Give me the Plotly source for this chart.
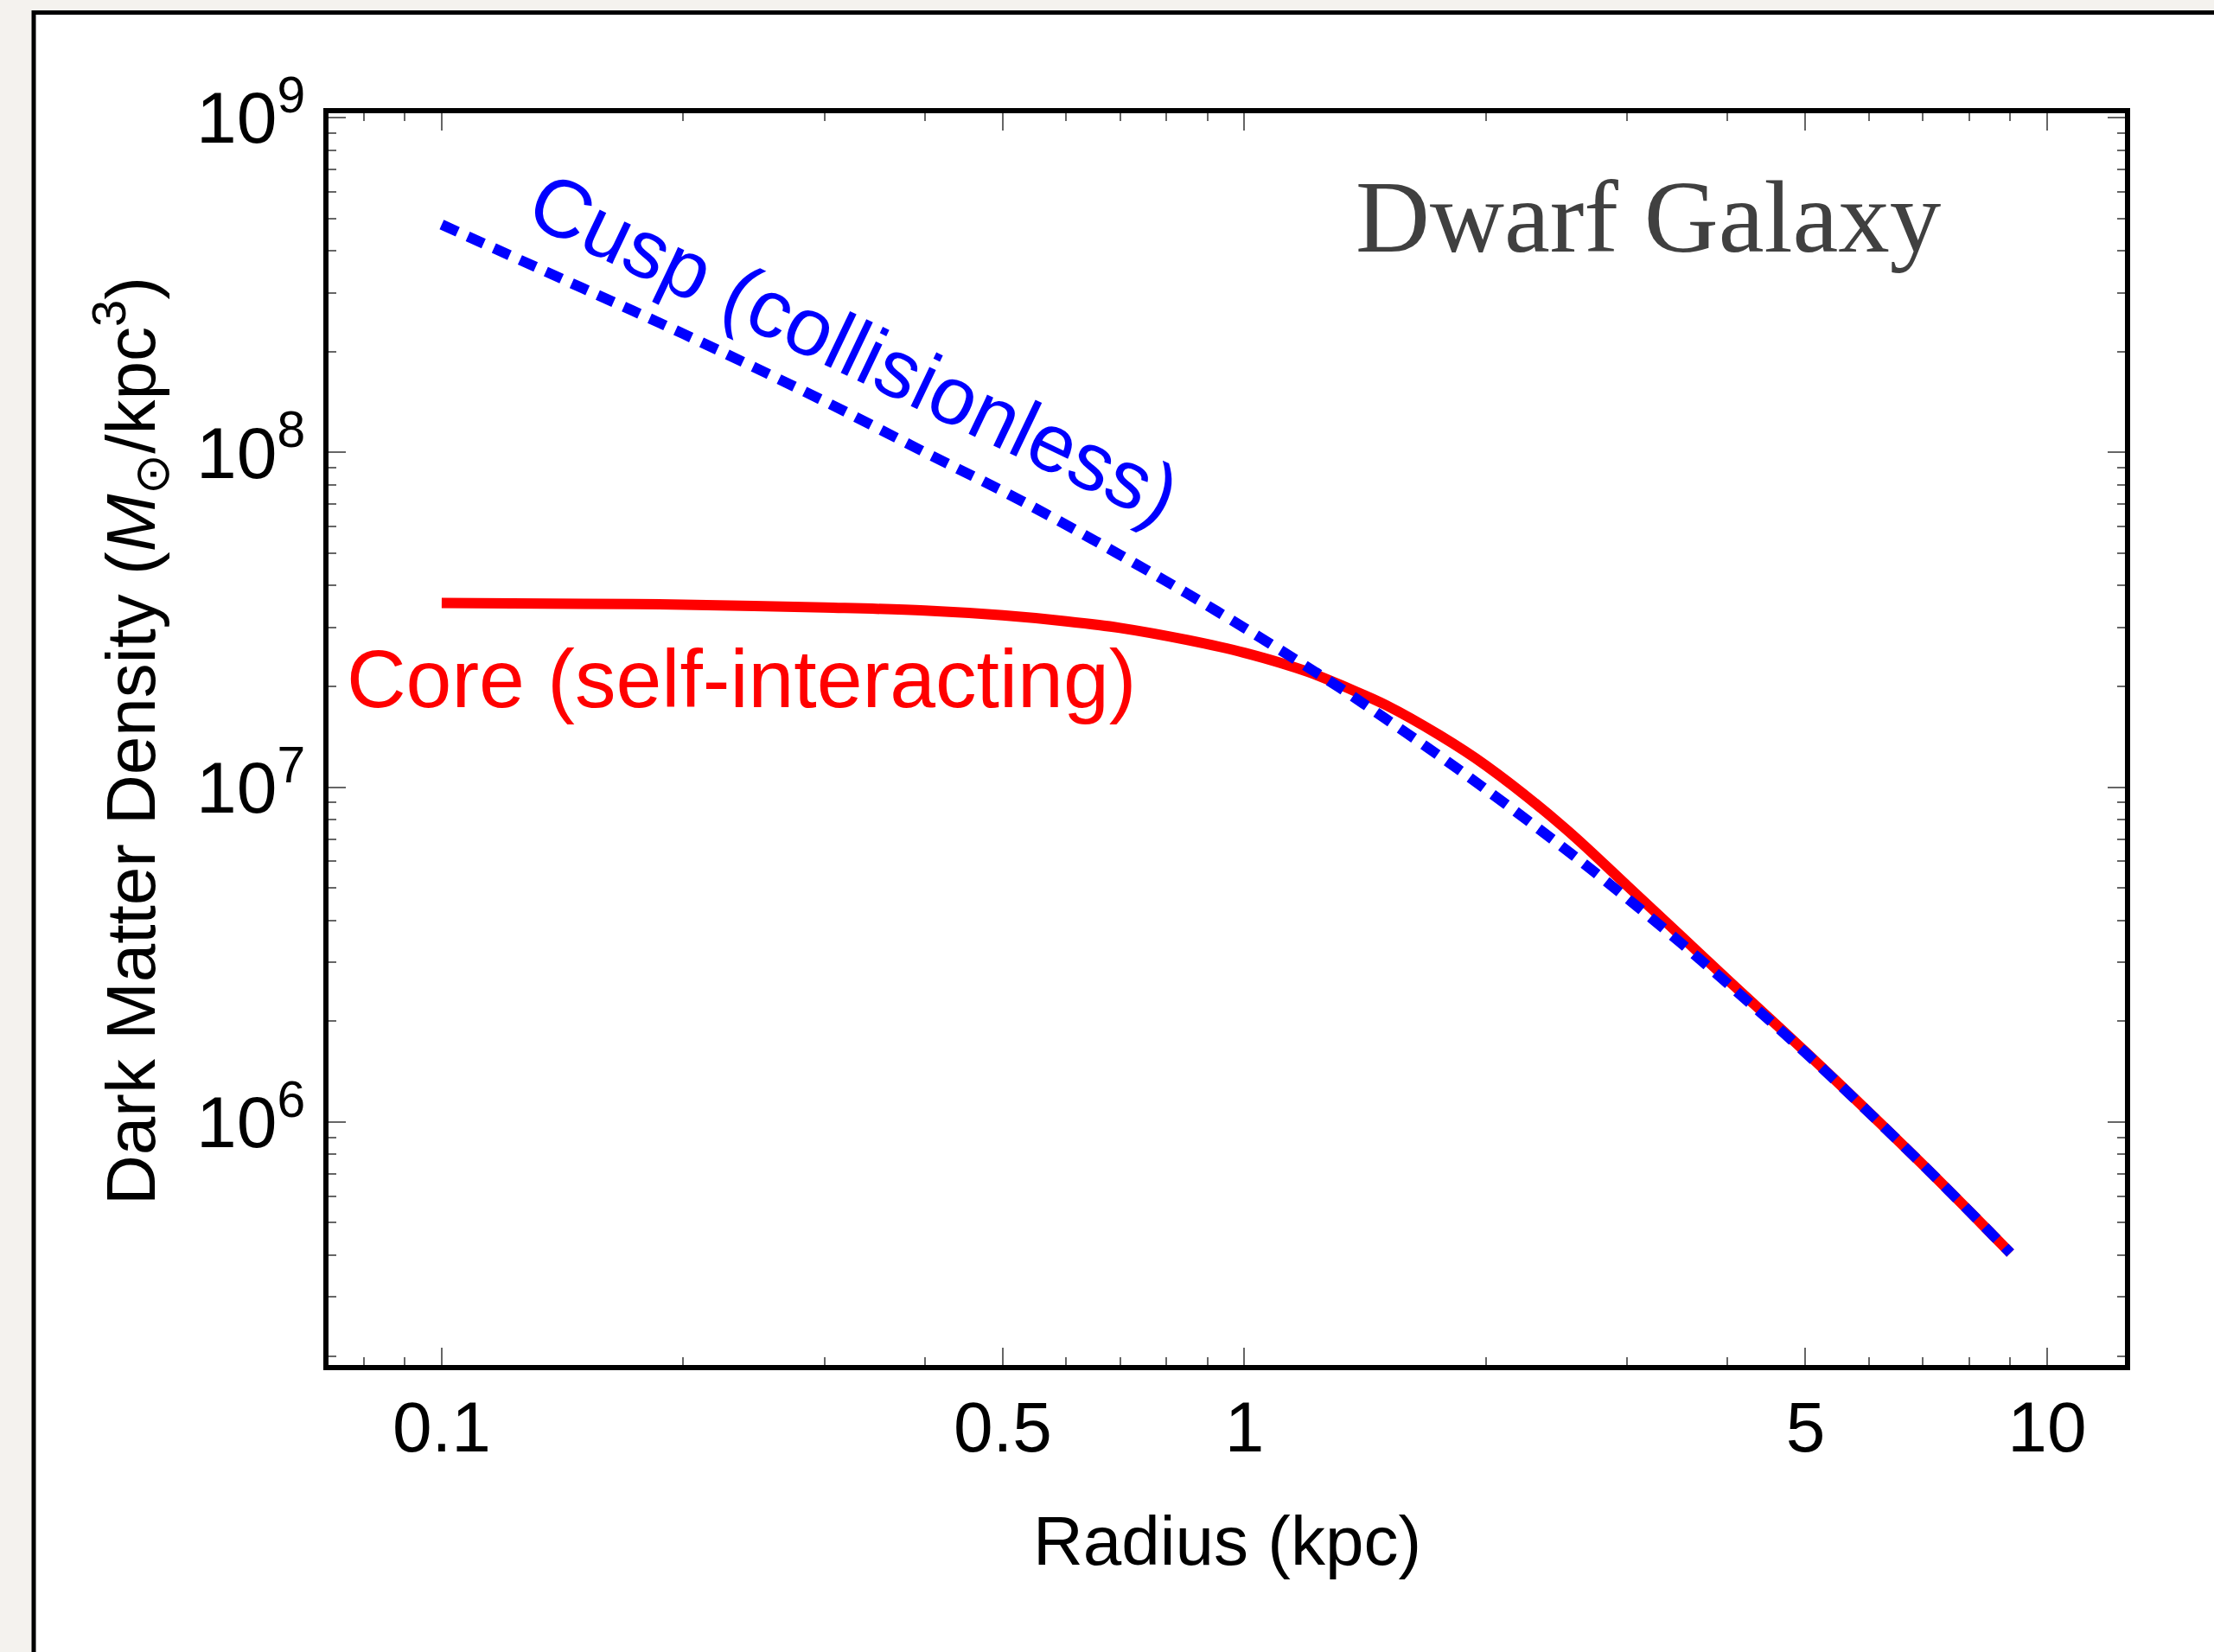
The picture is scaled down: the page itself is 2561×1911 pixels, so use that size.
import plotly.graph_objects as go

# ---- data ----
radius_kpc = [0.1, 0.15, 0.2, 0.3, 0.4, 0.5, 0.6, 0.7, 0.85, 1.0, 1.2, 1.35, 1.5, 1.75,
              2.0, 2.5, 3.0, 3.5, 4.0, 5.0, 7.0, 9.0]
density_cusp = [4.79e8, 3.09e8, 2.26e8, 1.42e8, 1.00e8, 7.66e7, 6.07e7, 4.94e7, 3.78e7,
                2.99e7, 2.28e7, 1.90e7, 1.60e7, 1.24e7, 9.84e6, 6.58e6, 4.65e6, 3.42e6,
                2.59e6, 1.61e6, 7.45e5, 4.06e5]
density_core = [3.55e7, 3.53e7, 3.51e7, 3.44e7, 3.37e7, 3.26e7, 3.13e7, 2.99e7, 2.75e7,
                2.52e7, 2.21e7, 1.97e7, 1.76e7, 1.43e7, 1.16e7, 7.59e6, 5.07e6, 3.59e6,
                2.66e6, 1.62e6, 7.45e5, 4.06e5]

x_tickvals = [0.1, 0.5, 1, 5, 10]
x_ticktext = ["0.1", "0.5", "1", "5", "10"]
x_minor = [0.08, 0.09, 0.2, 0.3, 0.4, 0.6, 0.7, 0.8, 0.9, 2, 3, 4, 6, 7, 8, 9]
y_tickvals = [1e6, 1e7, 1e8, 1e9]
y_ticktext = ["10<sup>6</sup>", "10<sup>7</sup>", "10<sup>8</sup>", "10<sup>9</sup>"]
y_minor = [k * 10 ** e for e in (5, 6, 7, 8) for k in range(2, 10)]

label_cusp = "Cusp (collisionless)"
label_core = "Core (self-interacting)"
label_title = "Dwarf Galaxy"
x_title = "Radius (kpc)"
y_title = "Dark Matter Density (<i>M</i><sub>⊙</sub>/kpc<sup>3</sup>)"

W, H = 2561, 1911
L, R, T, B = 380, 2458, 131, 1579
pw, ph = R - L, B - T
BG = "#f4f2ee"
SANS = "Liberation Sans, Arial, sans-serif"

def px(x):
    return (x - L) / pw

def py(y):
    return 1 - (y - T) / ph

fig = go.Figure()
fig.add_trace(go.Scatter(x=radius_kpc, y=density_core, mode="lines",
                         line=dict(color="#ff0000", width=12, shape="spline", smoothing=1.0),
                         showlegend=False))
fig.add_trace(go.Scatter(x=radius_kpc, y=density_cusp, mode="lines",
                         line=dict(color="#0000ff", width=12, dash="20px,13px",
                                   shape="spline", smoothing=1.0),
                         showlegend=False))

axis_common = dict(
    showline=True, linecolor="black", linewidth=6, mirror="allticks",
    ticks="inside", ticklen=20, tickwidth=2, tickcolor="#666666",
    showgrid=False, zeroline=False,
)

fig.update_xaxes(type="log", range=[-1.141, 1.097], tickmode="array",
                 tickvals=x_tickvals, ticktext=x_ticktext, ticklabelstandoff=-4,
                 tickfont=dict(family=SANS, size=82, color="black"),
                 minor=dict(tickmode="array", tickvals=x_minor, ticks="inside",
                            ticklen=9, tickwidth=2, tickcolor="#666666"),
                 **axis_common)
fig.update_yaxes(type="log", range=[5.274, 9.013], tickmode="array",
                 tickvals=y_tickvals, ticktext=y_ticktext, ticklabelstandoff=4,
                 tickfont=dict(family=SANS, size=84, color="black"),
                 minor=dict(tickmode="array", tickvals=y_minor, ticks="inside",
                            ticklen=9, tickwidth=2, tickcolor="#666666"),
                 **axis_common)

fig.update_layout(
    width=W, height=H,
    margin=dict(l=L, r=W - R, t=T, b=H - B, pad=0),
    paper_bgcolor=BG, plot_bgcolor="white",
    font=dict(family=SANS, color="black"),
    shapes=[dict(type="rect", xref="paper", yref="paper", layer="below",
                 x0=px(39), x1=px(2640), y0=py(1990), y1=py(14.5),
                 line=dict(color="black", width=5), fillcolor="white")],
    annotations=[
        dict(text=label_cusp, xref="paper", yref="paper", x=px(988), y=py(402),
             xanchor="center", yanchor="middle", textangle=25.5, showarrow=False,
             font=dict(size=95, color="#0000ff")),
        dict(text=label_core, xref="paper", yref="paper", x=px(857), y=py(785),
             xanchor="center", yanchor="middle", showarrow=False,
             font=dict(size=95, color="#ff0000")),
        dict(text=label_title, xref="paper", yref="paper", x=px(1907), y=py(251),
             xanchor="center", yanchor="middle", showarrow=False,
             font=dict(family="Liberation Serif, Times New Roman, serif", size=119, color="#404040")),
        dict(text=x_title, xref="paper", yref="paper", x=px(1419), y=py(1783),
             xanchor="center", yanchor="middle", showarrow=False,
             font=dict(size=80, color="black")),
        dict(text=y_title, xref="paper", yref="paper", x=px(150), y=py(857),
             xanchor="center", yanchor="middle", textangle=-90, showarrow=False,
             font=dict(size=80, color="black")),
    ],
)

fig.write_html(
    "out.html",
    config={"displayModeBar": False},
    post_script="document.body.style.margin='0';document.body.style.background='" + BG + "';",
)
